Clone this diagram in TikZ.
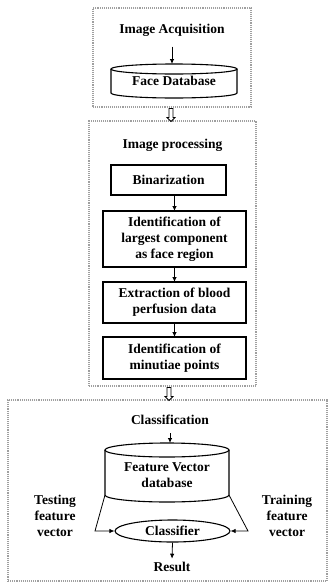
\documentclass[tikz,border=0pt]{standalone}
\usepackage{fontspec}
\setmainfont{Liberation Serif}
\usetikzlibrary{arrows.meta, shapes.geometric, shapes.arrows, positioning, calc}

\tikzset{
  lbl/.style={align=center, font=\bfseries\fontsize{13.5}{16}\selectfont},
  grp/.style={draw=gray!75, densely dotted, line width=1.1pt, inner sep=0pt, outer sep=0pt},
  stage/.style={lbl, draw, line width=1.1pt, inner sep=0pt, outer sep=0pt},
  arr/.style={-{Latex[length=5pt,width=4.5pt]}, line width=.8pt},
  hollow/.style={single arrow, draw, line width=.8pt, rotate=-90, inner sep=1.6pt,
    minimum height=13pt, single arrow head extend=2pt, single arrow head indent=0pt},
}

\begin{document}
\begin{tikzpicture}[x=1pt, y=-1pt]
  \useasboundingbox (0,0) rectangle (329,584);

  % group frames
  \node[grp, minimum width=158pt, minimum height=99pt] (acqgrp) at (172,57.5) {};
  \node[grp, minimum width=167pt, minimum height=265pt] (procgrp) at (172.5,253.5) {};
  \node[grp, minimum width=319pt, minimum height=181pt] (clsgrp) at (167.5,490.5) {};

  \node[hollow] (step1) at (171,114) {};
  \node[hollow] (step2) at (169,393) {};

  % image acquisition
  \node[lbl] (acq) at (172,30) {Image Acquisition};
  \coordinate (fdbtop) at (172,64);
  \draw[line width=1.1pt] (174,69) ellipse (63 and 5);
  \draw[line width=1.1pt] (111,69) -- (111,93) arc[start angle=180, end angle=0, x radius=63, y radius=5] -- (237,69);
  \node[lbl] (fdb) at (174,81) {Face Database};
  \draw[arr, shorten <=7pt] (acq.south) -- (fdbtop);

  % image processing
  \node[lbl] (proc) at (172.5,145) {Image processing};
  \node[stage, minimum width=115pt, minimum height=30pt] (bin) at (168.5,180) {Binarization};
  \node[stage, minimum width=143pt, minimum height=56pt] (ident) at (174.5,239) {Identification of\\largest component\\as face region};
  \node[stage, minimum width=143pt, minimum height=41pt] (extr) at (174.5,302.5) {Extraction of blood\\perfusion data};
  \node[stage, minimum width=143pt, minimum height=42pt] (minu) at (174.5,358) {Identification of\\minutiae points};
  \foreach \a/\b in {bin/ident, ident/extr, extr/minu}
    \draw[arr] (\a.south -| \b.north) -- (\b.north);

  % classification
  \node[lbl] (cls) at (170,420) {Classification};
  \coordinate (fvtop) at (170,443);
  \draw[line width=1.1pt] (167,450) ellipse (62 and 7);
  \draw[line width=1.1pt] (105,450) -- (105,495) arc[start angle=180, end angle=0, x radius=62, y radius=7] -- (229,450);
  \coordinate (fvl) at (105,495);
  \coordinate (fvr) at (229,495);
  \node[lbl] (fvdb) at (167,475) {Feature Vector\\database};
  \draw[arr, shorten <=5pt] (cls.south) -- (fvtop);

  \node[lbl, draw, ellipse, line width=1.1pt, inner sep=0pt, minimum width=115pt, minimum height=22pt] (clf) at (172.5,531) {Classifier};
  \coordinate (tl) at (95,531);
  \coordinate (tr) at (248,531);
  \draw[arr] (fvl) -- (tl) -- (clf.west);
  \draw[arr] (fvr) -- (tr) -- (clf.east);

  \node[lbl] (test) at (55,516) {Testing\\feature\\vector};
  \node[lbl] (train) at (287,516) {Training\\feature\\vector};

  \node[lbl] (res) at (172,567) {Result};
  \draw[arr] (clf.south) -- (res.north);
\end{tikzpicture}
\end{document}
